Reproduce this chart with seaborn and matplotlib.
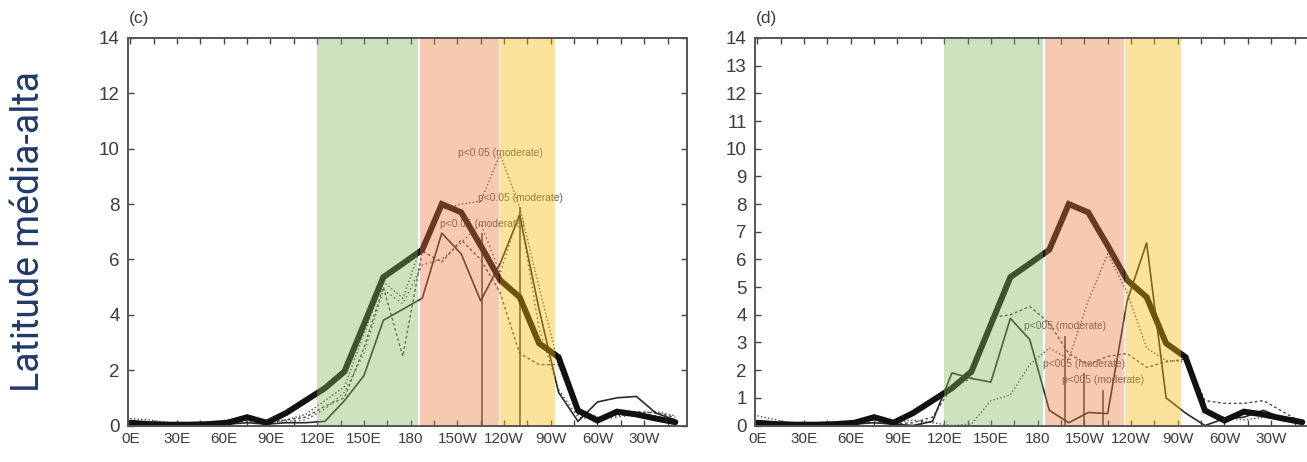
import matplotlib
matplotlib.use("Agg")
import matplotlib.pyplot as plt
from matplotlib.ticker import MultipleLocator
import seaborn as sns

# Longitude grid (degrees east, 0-360)
lon = [0, 12.5, 25, 37.5, 50, 62.5, 75, 87.5, 100, 112.5, 125, 137.5, 150,
       162.5, 175, 187.5, 200, 212.5, 225, 237.5, 250, 262.5, 275, 287.5,
       300, 312.5, 325, 337.5, 350]

# Observed frequency (thick curve, same in both panels)
observed = [0.10, 0.05, 0.03, 0.03, 0.05, 0.10, 0.30, 0.10, 0.45, 0.90, 1.35,
            1.95, 3.65, 5.36, 5.85, 6.35, 8.00, 7.70, 6.50, 5.25, 4.64, 2.97,
            2.47, 0.54, 0.18, 0.50, 0.40, 0.25, 0.12]

# Panel (c): model curves
c_model = [0.05, 0.03, 0.02, 0.02, 0.03, 0.05, 0.10, 0.05, 0.10, 0.10, 0.15,
           0.90, 1.80, 3.80, 4.20, 4.60, 6.95, 6.20, 4.50, 5.85, 7.60, 4.20,
           1.20, 0.15, 0.85, 1.00, 1.05, 0.45, 0.20]
c_run1 = [0.25, 0.20, 0.10, 0.05, 0.10, 0.20, 0.20, 0.15, 0.20, 0.40, 0.90,
          1.40, 3.30, 5.20, 4.60, 6.60, 7.80, 8.00, 8.10, 9.80, 7.90, 5.00,
          2.20, 0.60, 0.30, 0.35, 0.45, 0.50, 0.35]
c_run2 = [0.15, 0.10, 0.05, 0.03, 0.05, 0.15, 0.25, 0.10, 0.20, 0.30, 0.70,
          1.00, 2.80, 5.00, 2.50, 6.30, 5.90, 6.70, 6.00, 4.80, 2.60, 2.20,
          2.20, 0.40, 0.20, 0.40, 0.50, 0.45, 0.30]
c_run3 = [0.10, 0.05, 0.03, 0.03, 0.05, 0.10, 0.15, 0.10, 0.15, 0.20, 0.60,
          1.20, 2.60, 4.90, 4.40, 5.80, 6.00, 6.60, 7.30, 5.50, 7.70, 3.50,
          1.30, 0.30, 0.20, 0.30, 0.40, 0.35, 0.20]

# Panel (d): model curves
d_model = [0.05, 0.03, 0.02, 0.02, 0.03, 0.05, 0.10, 0.05, 0.00, 0.15, 1.90,
           1.70, 1.57, 3.87, 3.10, 0.55, 0.10, 0.47, 0.43, 4.50, 6.60, 1.00,
           0.45, 0.00, 0.25, 0.30, 0.55, 0.25, 0.10]
d_run1 = [0.35, 0.20, 0.05, 0.03, 0.05, 0.10, 0.20, 0.10, 0.20, 0.10, 0.00,
          0.05, 0.90, 1.10, 2.20, 2.80, 2.40, 4.50, 6.20, 4.80, 2.80, 2.35,
          2.30, 0.50, 0.30, 0.20, 0.30, 0.20, 0.10]
d_run2 = [0.10, 0.05, 0.03, 0.03, 0.05, 0.10, 0.10, 0.05, 0.10, 0.30, 1.40,
          1.70, 3.90, 4.00, 4.30, 3.70, 2.60, 2.20, 2.50, 2.60, 2.10, 2.30,
          2.40, 0.90, 0.80, 0.80, 0.90, 0.50, 0.10]

# Significance markers: longitude and label height
c_sig_lon = [226, 238, 250.5]
c_sig_val = [7.1, 9.65, 8.05]
c_sig_line = [True, False, True]
d_sig_lon = [197.6, 210, 222]
d_sig_val = [3.4, 2.05, 1.45]
sig_text_c = "p<0.05 (moderate)"
sig_text_d = "p<005 (moderate)"

# Longitude bands (green, salmon, yellow)
c_bands = [(120, 184.5), (185.8, 236.5), (237.7, 273)]
d_bands = [(120, 183.5), (184.8, 235.2), (236.4, 272)]
band_colors = ["#82b961", "#ed7a3e", "#f7bb0c"]

x_ticks = [0, 30, 60, 90, 120, 150, 180, 210, 240, 270, 300, 330]
x_labels = ["0E", "30E", "60E", "90E", "120E", "150E", "180", "150W",
            "120W", "90W", "60W", "30W"]

sns.set_style("white")
plt.rcParams["font.family"] = ["Liberation Sans", "DejaVu Sans"]

W, H = 1307, 462
fig = plt.figure(figsize=(W / 100, H / 100), dpi=100)
ax_c = fig.add_axes([128 / W, 1 - 425.5 / H, 559 / W, 387.5 / H])
ax_d = fig.add_axes([755 / W, 1 - 425.5 / H, 559 / W, 387.5 / H])


def draw_panel(ax, model, runs, sig_lon, sig_val, sig_line, sig_text, bands,
               ystep):
    styles = [(0, (1.0, 1.6)), (0, (2.0, 1.8)), (0, (1.0, 2.2))]
    for vals, ls in zip(runs, styles):
        sns.lineplot(x=lon, y=vals, ax=ax, color="#4a4a4a", lw=1.0,
                     linestyle=ls, zorder=2)
    sns.lineplot(x=lon, y=model, ax=ax, color="#2b2b2b", lw=1.2, zorder=2.2)
    sns.lineplot(x=lon, y=observed, ax=ax, color="#111111", lw=4.3,
                 zorder=2.4, solid_joinstyle="miter")
    for x, v, has_line in zip(sig_lon, sig_val, sig_line):
        if has_line:
            ax.vlines(x, 0, v - 0.15, color="#3a3a3a", lw=1.1, zorder=2.1)
        ax.text(x, v, sig_text, ha="center", va="bottom", fontsize=7.4,
                color="#5a5a5a", zorder=2.3)
    for (a, b), col in zip(bands, band_colors):
        ax.axvspan(a, b, ymin=0, ymax=1, color=col, alpha=0.40, lw=0,
                   zorder=3)
    ax.set_xlim(-1.5, 357.5)
    ax.set_ylim(0, 14)
    ax.set_xticks(x_ticks)
    ax.set_xticklabels(x_labels)
    ax.xaxis.set_minor_locator(MultipleLocator(15))
    ax.yaxis.set_major_locator(MultipleLocator(ystep))
    ax.tick_params(which="both", direction="in", top=True, right=True,
                   bottom=True, left=True, color="#444444", width=1.0,
                   labelsize=11, labelcolor="#3c3c3c", pad=5)
    ax.tick_params(which="major", length=4)
    ax.tick_params(which="minor", length=4)
    ax.tick_params(axis="y", labelsize=13.5, pad=6)
    for s in ax.spines.values():
        s.set_color("#555555")
        s.set_linewidth(1.4)
        s.set_zorder(5)
    ax.set_xlabel("")
    ax.set_ylabel("")


draw_panel(ax_c, c_model, [c_run1, c_run2, c_run3], c_sig_lon, c_sig_val,
           c_sig_line, sig_text_c, c_bands, 2)
draw_panel(ax_d, d_model, [d_run1, d_run2], d_sig_lon, d_sig_val,
           [True, True, True], sig_text_d, d_bands, 1)

fig.text(129 / W, 1 - 18 / H, "(c)", ha="left", va="center", fontsize=12.5,
         color="#3c3c3c")
fig.text(756 / W, 1 - 18 / H, "(d)", ha="left", va="center", fontsize=12.5,
         color="#3c3c3c")
fig.text(29 / W, 1 - 231 / H, "Latitude média-alta", rotation=90,
         ha="center", va="center", fontsize=27, color="#1f3a6a",
         family=["Roboto", "DejaVu Sans"])

fig.savefig("out.png", dpi=100)
